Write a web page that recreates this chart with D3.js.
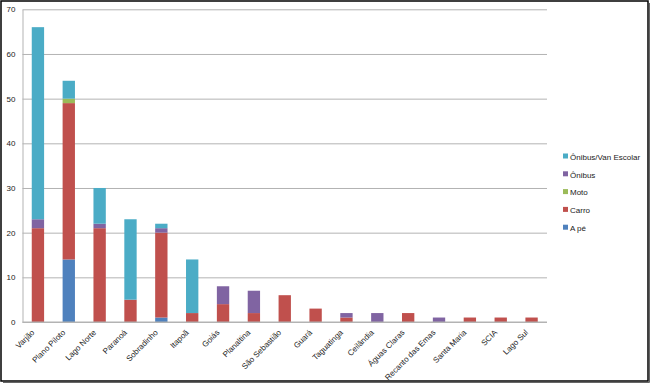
<!DOCTYPE html>
<html>
<head>
<meta charset="utf-8">
<script src="https://cdn.jsdelivr.net/npm/d3@7"></script>
<style>
body{margin:0;background:#fff;}
svg{display:block;font-family:"Liberation Sans",Arial,sans-serif;}
</style>
</head>
<body>
<svg id="chart" width="650" height="384"></svg>
<script>
const categories = ["Varjão","Plano Piloto","Lago Norte","Paranoá","Sobradinho","Itapoã","Goiás","Planaltina","São Sebastião","Guará","Taguatinga","Ceilândia","Águas Claras","Recanto das Emas","Santa Maria","SCIA","Lago Sul"];
const aPe      = [0,14,0,0,1,0,0,0,0,0,0,0,0,0,0,0,0];
const carro    = [21,35,21,5,19,2,4,2,6,3,1,0,2,0,1,1,1];
const moto     = [0,1,0,0,0,0,0,0,0,0,0,0,0,0,0,0,0];
const onibus   = [2,0,1,0,1,0,4,5,0,0,1,2,0,1,0,0,0];
const onibusVan= [43,4,8,18,1,12,0,0,0,0,0,0,0,0,0,0,0];
const seriesNames = ["A pé","Carro","Moto","Ônibus","Ônibus/Van Escolar"];
const seriesColors = ["#4F81BD","#C0504D","#9BBB59","#8064A2","#4BACC6"];
const yTicks = [0,10,20,30,40,50,60,70];

const seriesValues = [aPe, carro, moto, onibus, onibusVan];
const table = categories.map((c,i)=>{
  const o = {cat:c};
  seriesNames.forEach((s,j)=>o[s]=seriesValues[j][i]);
  return o;
});
const stacked = d3.stack().keys(seriesNames)(table);

const svg = d3.select("#chart");
svg.append("rect").attr("x",1).attr("y",1).attr("width",647).attr("height",380)
  .attr("fill","#fff").attr("stroke","#000").attr("stroke-width",1.5);
svg.append("path").attr("d","M3,382.5H649.5V3").attr("fill","none").attr("stroke","#666").attr("stroke-width",1);

const x0 = 22.5, x1 = 547, yTop = 9.3, yBot = 322;
const x = d3.scaleBand().domain(categories).range([x0,x1]).paddingInner(0.6).paddingOuter(0.3);
const y = d3.scaleLinear().domain([0,70]).range([yBot,yTop]);

// gridlines
const grid = svg.append("g").attr("transform",`translate(${x0},0)`)
  .call(d3.axisLeft(y).tickValues(yTicks).tickSize(-(x1-x0)).tickFormat(""));
grid.select(".domain").remove();
grid.selectAll("line").attr("stroke","#b3b3b3").attr("stroke-width",1);

// y labels
const yAxis = svg.append("g").attr("transform",`translate(${x0},0)`)
  .call(d3.axisLeft(y).tickValues(yTicks).tickSize(0).tickPadding(7));
yAxis.select(".domain").attr("stroke","#b3b3b3");
yAxis.selectAll("text").attr("font-size","8px").attr("fill","#222");

// bars
svg.append("g").selectAll("g").data(stacked).join("g")
  .attr("fill",(d,i)=>seriesColors[i])
  .selectAll("rect").data(d=>d).join("rect")
  .attr("x",d=>x(d.data.cat))
  .attr("width",x.bandwidth())
  .attr("y",d=>y(d[1]))
  .attr("height",d=>y(d[0])-y(d[1]));

// x axis
const xAxis = svg.append("g").attr("transform",`translate(0,${yBot})`)
  .call(d3.axisBottom(x).tickSize(0).tickPadding(0));
xAxis.select(".domain").attr("stroke","#b3b3b3").attr("d",`M${x0},0H${x1}`);
xAxis.selectAll("text")
  .attr("font-size","8px").attr("fill","#222")
  .attr("text-anchor","end")
  .attr("dy",null).attr("y",0)
  .attr("transform","translate(-3,11) rotate(-45)");

// legend
const legendOrder = [4,3,2,1,0];
const lg = svg.append("g");
legendOrder.forEach((si,k)=>{
  const yy = 157 + k*17.8;
  lg.append("rect").attr("x",563).attr("y",yy-3.5).attr("width",5).attr("height",5).attr("fill",seriesColors[si]);
  lg.append("text").attr("x",570).attr("y",yy).attr("dy","0.35em").attr("font-size","8px").attr("fill","#222").text(seriesNames[si]);
});
</script>
</body>
</html>
